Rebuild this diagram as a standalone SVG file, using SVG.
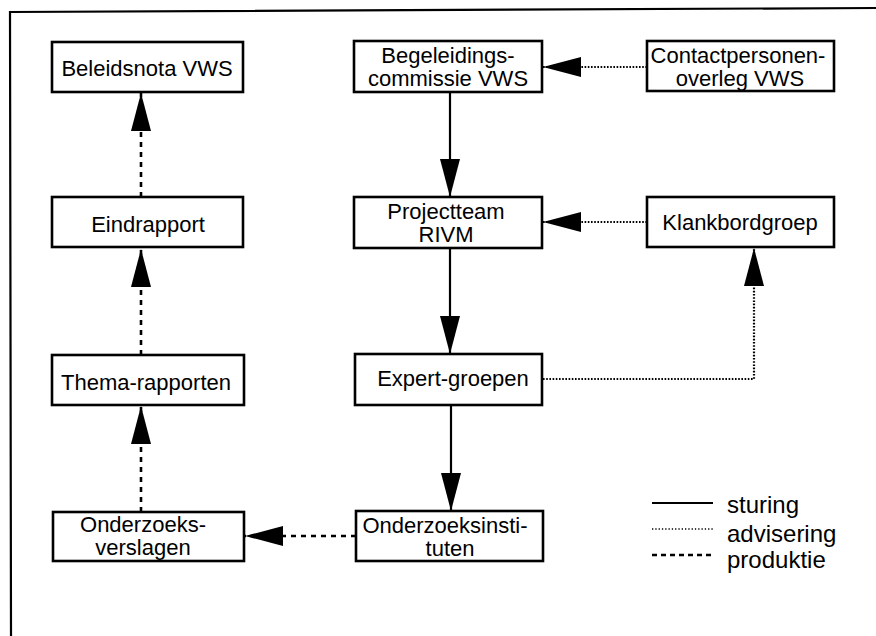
<svg xmlns="http://www.w3.org/2000/svg" width="876" height="636" viewBox="0 0 876 636">
<style>
.box{fill:#fff;stroke:#000;stroke-width:2.6}
.t{font-family:"Liberation Sans",Arial,sans-serif;font-size:22px;fill:#000;text-anchor:middle}
.lg{font-family:"Liberation Sans",Arial,sans-serif;font-size:24px;fill:#000}
.solid{stroke:#000;stroke-width:2.2;fill:none}
.dash{stroke:#000;stroke-width:2.6;fill:none;stroke-dasharray:5 5}
.dot{stroke:#000;stroke-width:2.2;fill:none;stroke-dasharray:1.6 1.6}
</style>
<defs>
<marker id="ah" viewBox="0 0 38 20" refX="38" refY="10" markerWidth="38" markerHeight="20" markerUnits="userSpaceOnUse" orient="auto">
<path d="M0,0 L38,10 L0,20 z" fill="#000"/>
</marker>
</defs>
<rect width="876" height="636" fill="#fff"/>
<path d="M11,636 L10,12 L876,8" fill="none" stroke="#000" stroke-width="2.2"/>

<g id="connectors">
<line class="dash" x1="141" y1="197" x2="141" y2="93" marker-end="url(#ah)"/>
<line class="dash" x1="141" y1="355" x2="141" y2="249" marker-end="url(#ah)"/>
<line class="dash" x1="141" y1="512" x2="141" y2="406" marker-end="url(#ah)"/>
<line class="dash" x1="356" y1="536" x2="245" y2="536" marker-end="url(#ah)"/>
<line class="solid" x1="450" y1="92" x2="450" y2="197" marker-end="url(#ah)"/>
<line class="solid" x1="450" y1="248" x2="450" y2="354" marker-end="url(#ah)"/>
<line class="solid" x1="451" y1="405" x2="451" y2="511" marker-end="url(#ah)"/>
<line class="dot" x1="647" y1="67" x2="543" y2="67" marker-end="url(#ah)"/>
<line class="dot" x1="647" y1="222" x2="543" y2="222" marker-end="url(#ah)"/>
<polyline class="dot" points="543,379 754,379 754,248" marker-end="url(#ah)"/>
</g>

<g id="n-beleidsnota"><rect class="box" x="52" y="42" width="191" height="50"/><text class="t" x="147" y="76">Beleidsnota VWS</text></g>
<g id="n-eindrapport"><rect class="box" x="52" y="197" width="191" height="50"/><text class="t" x="148" y="232">Eindrapport</text></g>
<g id="n-thema"><rect class="box" x="52" y="355" width="192" height="50"/><text class="t" x="146" y="390">Thema-rapporten</text></g>
<g id="n-verslagen"><rect class="box" x="53" y="512" width="191" height="49"/><text class="t" x="143" y="532">Onderzoeks-</text><text class="t" x="143" y="555">verslagen</text></g>
<g id="n-begeleidings"><rect class="box" x="354" y="41" width="188" height="51"/><text class="t" x="448" y="63">Begeleidings-</text><text class="t" x="448" y="86">commissie VWS</text></g>
<g id="n-projectteam"><rect class="box" x="354" y="197" width="188" height="51"/><text class="t" x="446" y="219">Projectteam</text><text class="t" x="446" y="242">RIVM</text></g>
<g id="n-expert"><rect class="box" x="355" y="354" width="187" height="51"/><text class="t" x="453" y="386">Expert-groepen</text></g>
<g id="n-instituten"><rect class="box" x="356" y="511" width="187" height="50"/><text class="t" x="445" y="533">Onderzoeksinsti-</text><text class="t" x="450" y="556">tuten</text></g>
<g id="n-contact"><rect class="box" x="647" y="41" width="187" height="50"/><text class="t" x="738" y="63">Contactpersonen-</text><text class="t" x="740" y="86">overleg VWS</text></g>
<g id="n-klankbord"><rect class="box" x="647" y="197" width="187" height="50"/><text class="t" x="740" y="230">Klankbordgroep</text></g>

<g id="legend">
<line x1="652" y1="503" x2="713" y2="503" stroke="#000" stroke-width="2.2"/>
<line x1="652" y1="529" x2="713" y2="529" stroke="#000" stroke-width="1.6" stroke-dasharray="1.3 2"/>
<line x1="652" y1="555" x2="713" y2="555" stroke="#000" stroke-width="2.4" stroke-dasharray="5 4"/>
<text class="lg" x="727" y="513">sturing</text>
<text class="lg" x="727" y="542">advisering</text>
<text class="lg" x="727" y="568">produktie</text>
</g>
</svg>
